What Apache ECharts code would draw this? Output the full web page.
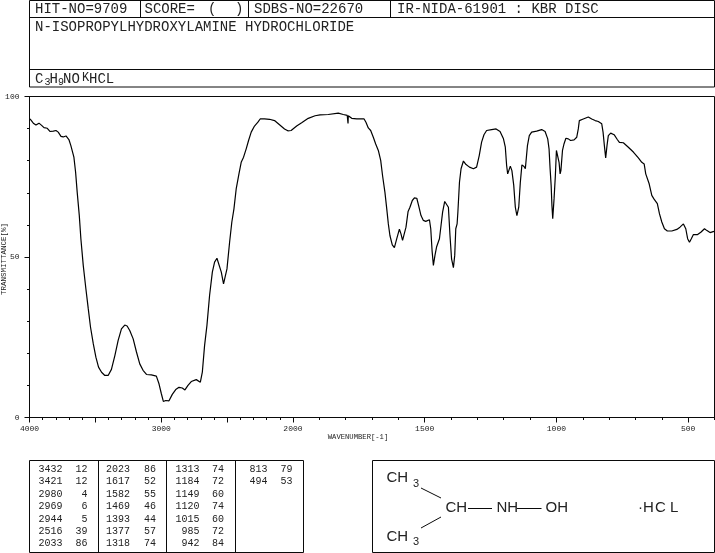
<!DOCTYPE html>
<html><head><meta charset="utf-8">
<style>html,body{margin:0;padding:0;background:#fff}#c{width:715px;height:553px}</style>
<script src="https://cdn.jsdelivr.net/npm/echarts@6/dist/echarts.min.js"></script>
</head><body><div id="c"></div>
<script>
const wavenumbers = [3996,3984,3971,3951,3928,3908,3890,3865,3845,3819,3799,3782,3761,3744,3723,3701,3686,3663,3650,3638,3622,3610,3592,3572,3554,3537,3516,3496,3476,3453,3428,3403,3378,3352,3327,3302,3277,3259,3239,3213,3188,3163,3138,3112,3075,3037,3017,2999,2984,2966,2941,2916,2890,2865,2840,2820,2797,2772,2734,2703,2688,2671,2653,2633,2612,2595,2577,2562,2544,2527,2514,2501,2481,2464,2448,2431,2410,2393,2375,2355,2337,2317,2292,2266,2249,2216,2178,2140,2102,2064,2039,2014,1986,1967,1942,1916,1897,1866,1828,1809,1794,1791,1790,1777,1758,1746,1739,1730,1723,1714,1705,1695,1686,1676,1667,1660,1651,1644,1638,1632,1623,1615,1606,1596,1590,1584,1577,1571,1563,1556,1547,1539,1530,1523,1514,1505,1496,1482,1477,1472,1467,1461,1455,1444,1438,1432,1424,1417,1410,1404,1398,1391,1386,1382,1377,1374,1368,1362,1353,1343,1330,1315,1303,1293,1284,1275,1265,1246,1229,1214,1201,1194,1189,1185,1180,1175,1169,1162,1156,1150,1143,1137,1131,1123,1118,1110,1103,1094,1075,1056,1043,1033,1028,1024,1020,1017,1014,1012,1009,1004,1000,994,990,986,983,977,971,964,955,946,933,923,917,913,898,879,866,853,841,828,823,818,813,808,803,794,781,769,761,746,727,708,689,676,667,661,648,638,630,617,609,600,590,579,562,543,531,518,509,502,495,488,480,464,452,438,430,417,402];
const transmittance = [93.0,92.8,91.7,91.1,91.7,91.0,90.3,90.1,89.1,89.2,89.4,88.9,87.6,87.4,87.7,86.6,84.7,81.1,76.4,70.2,62.9,55.7,47.4,40.1,33.9,28.2,23.0,18.8,15.7,14.1,13.1,13.1,15.0,19.3,24.0,27.6,28.8,28.5,27.1,24.5,20.4,16.7,14.7,13.4,13.3,12.9,10.5,7.4,5.0,5.3,5.2,7.2,8.7,9.4,9.2,8.6,10.0,11.2,11.8,11.0,14.1,22.4,28.7,38.0,45.3,48.4,49.6,49.4,45.3,41.6,41.1,46.3,54.6,60.9,65.0,71.2,75.9,79.5,81.1,83.7,86.3,88.9,90.8,92.0,93.0,93.0,92.9,92.5,91.2,89.9,89.3,89.4,90.8,91.8,93.2,94.0,94.3,94.4,94.8,94.4,94.1,91.6,94.0,93.2,93.0,93.0,93.2,93.0,92.0,90.2,89.4,87.3,85.2,83.2,80.1,75.4,70.2,65.0,60.3,56.7,53.8,52.9,55.7,58.7,57.2,55.2,55.5,59.3,64.2,65.5,67.6,68.4,68.3,66.0,62.9,61.4,61.1,61.6,58.8,52.0,47.4,50.5,53.1,55.7,59.8,64.0,67.3,67.8,65.5,56.7,49.4,46.7,50.5,58.8,60.3,64.0,73.3,77.5,79.9,78.8,78.0,77.5,78.0,81.6,85.8,88.1,89.4,89.7,89.9,89.1,86.8,84.2,78.5,75.9,75.9,78.3,76.9,72.3,65.5,62.9,65.5,73.3,78.7,78.2,77.5,84.7,87.8,88.9,89.2,89.7,89.1,86.8,83.7,77.5,72.3,66.0,61.9,61.9,68.1,75.4,83.2,83.2,79.5,75.9,76.9,83.2,85.3,87.0,86.8,86.3,86.5,87.3,89.9,92.5,93.0,93.6,93.0,92.5,92.2,91.5,88.9,84.7,80.9,84.7,87.8,88.6,88.1,86.6,85.7,85.6,84.2,82.7,80.9,79.5,79.0,75.9,72.8,69.2,68.1,66.6,63.5,60.9,58.8,58.1,58.1,58.6,59.3,60.3,58.8,55.7,54.6,55.7,57.0,57.0,57.7,58.8,58.3,57.6,58.0];
const majorTickWn = [4000,3500,3000,2500,2000,1500,1000,500];
const labelledWn = [4000,3000,2000,1500,1000,500];
const minorTickWn = [3900,3800,3700,3600,3400,3300,3200,3100,2900,2800,2700,2600,2400,2300,2200,2100,1900,1800,1700,1600,1400,1300,1200,1100,900,800,700,600,400];
const peakWn = [3432,3421,2980,2969,2944,2516,2033,2023,1617,1582,1469,1393,1377,1318,1313,1184,1149,1120,1015,985,942,813,494];
const peakT = [12,12,4,6,5,39,86,86,52,55,46,44,57,74,74,72,60,74,60,72,84,79,53];
const headerHit = 'HIT-NO=9709', headerScore = 'SCORE=', headerSdbs = 'SDBS-NO=22670', headerIr = 'IR-NIDA-61901 : KBR DISC';
const compoundName = 'N-ISOPROPYLHYDROXYLAMINE HYDROCHLORIDE';
const yTitle = 'TRANSMITTANCE[%]', xTitle = 'WAVENUMBER[-1]';

// The spectrum's x scale has two linear pieces: 2000 cm-1 is the break, the right part is twice as wide per unit.
const toAxis = w => w >= 2000 ? (4000 - w) / 2 : 1000 + (2000 - w);
const fromAxis = u => u <= 1000 ? 4000 - 2 * u : 2000 - (u - 1000);

const INK = '#0a0a0a', MONO = '"Liberation Mono","DejaVu Sans Mono",monospace', SANS = '"Liberation Sans",sans-serif';
const g = [];
const line = (x1,y1,x2,y2,w=1) => g.push({type:'line',silent:true,shape:{x1,y1,x2,y2},style:{stroke:INK,lineWidth:w}});
const rect = (x,y,width,height) => g.push({type:'rect',silent:true,shape:{x,y,width,height},style:{fill:'none',stroke:INK,lineWidth:1}});
const text = (t,x,y,size,opt={}) => g.push({type:'text',silent:true,x,y,rotation:opt.rot||0,style:{text:t,fill:opt.fill||'#222',font:`${size}px ${opt.font||MONO}`,align:opt.align||'left',verticalAlign:'middle'}});

// header block
rect(29.5,0.5,685,86.5); line(29.5,17.5,714.5,17.5); line(29.5,69.5,714.5,69.5);
line(140.5,0,140.5,17); line(248.5,0,248.5,17); line(390.5,0,390.5,17);
text(headerHit,35,9.5,14); text(headerScore,144.5,9.5,14); text('(',208,9.5,14); text(')',235,9.5,14);
text(headerSdbs,254,9.5,14); text(headerIr,397,9.5,14);
text(compoundName,35,27,14);
text('C',35,79,14); text('3',44.5,82,10); text('H',49.5,79,14); text('9',58,82,10);
text('NO',63,79,14); text('K',82,78,12); text('HCL',89,79,14);

// axis titles
text(xTitle,358,437,7.2,{align:'center'});
text(yTitle,4,259,7.5,{align:'center',rot:Math.PI/2});

// peak table
rect(29.5,460.5,274,92); line(98.5,460,98.5,552); line(166.5,460,166.5,552); line(235.5,460,235.5,552);
const colWnX = [62.5,130,199.5,267.5], colTX = [87.5,156,224,292.5];
const rowY = [469.3,481.7,494.3,506.7,519,531.3,543.7];
peakWn.forEach((w,i)=>{
  const c = Math.floor(i/7), r = i%7;
  text(String(w),colWnX[c],rowY[r],10,{align:'right'});
  text(String(peakT[i]),colTX[c],rowY[r],10,{align:'right'});
});

// structure
rect(372.5,460.5,342,92);
const SZ = 15, st = {font:SANS};
text('CH',386.5,478,SZ,st); text('3',413,483.5,11,st);
text('CH',386.5,536.5,SZ,st); text('3',413,542,11,st);
text('CH',445.5,507.5,SZ,st); text('NH',496.5,507.5,SZ,st); text('OH',545.5,507.5,SZ,st);
text('\u00b7',638,507.5,SZ,st); text('H',643,507.5,SZ,st); text('C',655,507.5,SZ,st); text('L',670,507.5,SZ,st);
line(421,488,441,498); line(421,528,441,517); line(468,508.5,492,508.5); line(517,508.5,541.5,508.5);

const option = {
  animation:false, backgroundColor:'#fff',
  grid:{left:29.5,top:96.5,width:685,height:321,show:true,borderColor:INK,borderWidth:1,backgroundColor:'transparent',containLabel:false},
  xAxis:[
    {type:'value',position:'bottom',min:0,max:2600,splitLine:{show:false},
     axisLine:{show:true,onZero:false,lineStyle:{color:INK}},
     axisTick:{show:true,length:5,customValues:majorTickWn.map(toAxis),lineStyle:{color:INK}},
     axisLabel:{show:true,margin:7,color:'#222',fontFamily:MONO,fontSize:8,showMinLabel:true,
       customValues:labelledWn.map(toAxis),formatter:v=>String(Math.round(fromAxis(v)))}},
    {type:'value',position:'bottom',min:0,max:2600,splitLine:{show:false},
     axisLine:{show:false,onZero:false},
     axisTick:{show:true,length:2.5,customValues:minorTickWn.map(toAxis),lineStyle:{color:INK}},
     axisLabel:{show:false}}
  ],
  yAxis:{type:'value',min:0,max:100,interval:50,splitLine:{show:false},
    axisLine:{show:true,onZero:false,lineStyle:{color:INK}},
    axisTick:{show:true,length:5,lineStyle:{color:INK}},
    minorTick:{show:true,splitNumber:5,length:2.5,lineStyle:{color:INK}},
    minorSplitLine:{show:false},
    axisLabel:{margin:10,color:'#222',fontFamily:MONO,fontSize:8}},
  series:[{type:'line',xAxisIndex:0,silent:true,symbol:'none',smooth:false,
    lineStyle:{color:'#000',width:1.2},
    data:wavenumbers.map((w,i)=>[toAxis(w),transmittance[i]])}],
  graphic:g
};
echarts.init(document.getElementById('c'),null,{renderer:'canvas'}).setOption(option);
</script></body></html>
